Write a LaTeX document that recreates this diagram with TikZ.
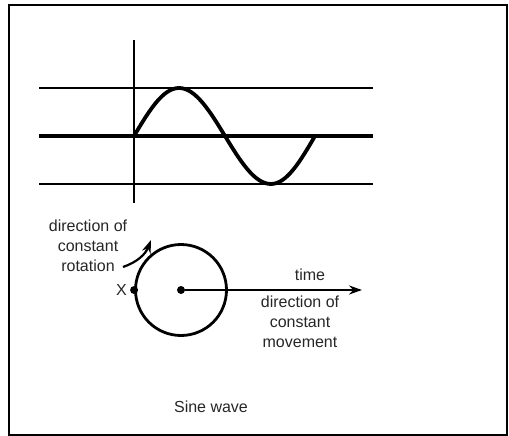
\documentclass[tikz,border=0pt]{standalone}
\usepackage{fontspec}
\setmainfont{Liberation Sans}
\usepackage{tikz}
\usetikzlibrary{arrows.meta,positioning,calc}

\begin{document}
\begin{tikzpicture}[x=1pt, y=-1pt,
          lbl/.style={font=\fontsize{16}{20}\selectfont, align=center, inner sep=0pt, text=black!85},
          guide/.style={line width=1.6pt},
          wave/.style={line width=3.8pt},
          dot/.style={circle, fill, inner sep=0pt, minimum size=8pt},
          >={Stealth[length=13pt, width=9pt]}
        ]
          \useasboundingbox (0,0) rectangle (509,436);
          \draw[line width=2pt] (9,5) rectangle (507,435);
          % axes of the graph
          \draw[guide] (134,40) -- (134,203);
          \draw[guide] (39,88) -- (373,88);
          \draw[wave] (39,136) -- (373,136);
          \draw[guide] (39,184) -- (373,184);
          \draw[wave] (134,136) sin (179,88) cos (225,136) sin (271,184) cos (315,136);
          % rotating circle
          \node[draw, circle, line width=2.8pt, minimum size=91pt, inner sep=0pt] (wheel) at (181,290) {};
          \node[dot] (centre) at (181,290) {};
          \node[dot] (xpt) at (wheel.west) {};
          \node[lbl, left=3pt of xpt] (xlbl) {X};
          \coordinate (tip) at (362,290);
          \draw[->, line width=2.5pt] (centre) -- (tip);
          \node[lbl] (timelbl) at (310,275) {time};
          \node[lbl] (movelbl) at (300,322) {direction of\\constant\\movement};
          \node[lbl] (rotlbl) at (88,246) {direction of\\constant\\rotation};
          \coordinate (rotA) at (123,267);
          \coordinate (rotB) at (151,240);
          \draw[->, line width=2.2pt] (rotA) to[bend right=25] (rotB);
          \node[lbl] (title) at (211,407) {Sine wave};
        \end{tikzpicture}
\end{document}
